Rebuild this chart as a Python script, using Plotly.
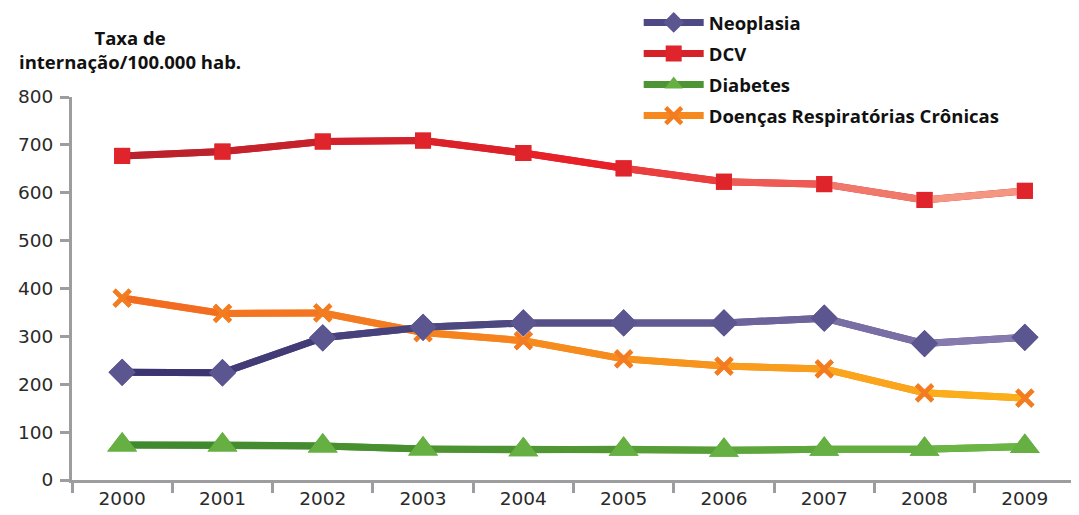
import plotly.graph_objects as go

years = ["2000", "2001", "2002", "2003", "2004", "2005", "2006", "2007", "2008", "2009"]
neoplasia = [225, 224, 297, 319, 328, 328, 328, 338, 285, 298]
dcv = [677, 686, 707, 709, 683, 651, 623, 618, 585, 604]
diabetes = [73, 73, 71, 65, 63, 64, 62, 64, 64, 70]
drc = [380, 348, 349, 308, 291, 253, 238, 232, 182, 171]

names = ["Neoplasia", "DCV", "Diabetes", "Doenças Respiratórias Crônicas"]
values = [neoplasia, dcv, diabetes, drc]
# gradient stops (start, middle, end) per series
grad = [
    [(55, 50, 110), (85, 78, 135), (140, 128, 180)],
    [(180, 35, 45), (232, 32, 40), (246, 165, 140)],
    [(62, 135, 45), (80, 150, 50), (110, 185, 70)],
    [(242, 105, 35), (246, 140, 30), (252, 178, 25)],
]
mid_col = ["#4e4884", "#d52229", "#4f9434", "#f5891f"]
marker_col = ["#5b5590", "#e0242b", "#66b043", "#f47c20"]
symbols = ["diamond", "square", "triangle-up", "x-thin"]
msize = [21, 16, 26, 16]


def lerp(a, b, t):
    return tuple(int(round(a[i] + (b[i] - a[i]) * t)) for i in range(3))


def grad_col(stops, t):
    if t <= 0.5:
        c = lerp(stops[0], stops[1], t * 2)
    else:
        c = lerp(stops[1], stops[2], (t - 0.5) * 2)
    return "rgb(%d,%d,%d)" % c


def marker_dict(k):
    if symbols[k] == "x-thin":
        return dict(symbol="x-thin", size=msize[k], color=marker_col[k],
                    line=dict(width=4.5, color=marker_col[k]))
    return dict(symbol=symbols[k], size=msize[k], color=marker_col[k],
                line=dict(width=0))


fig = go.Figure()
order = [2, 3, 0, 1]
# legend traces (draw first)
for k in range(4):
    fig.add_trace(go.Scatter(
        x=years, y=values[k], name=names[k], mode="lines+markers",
        legendgroup="g%d" % k,
        line=dict(color=mid_col[k], width=7), marker=marker_dict(k),
        legendrank=k + 1, hoverinfo="skip"))
# gradient segments
for k in order:
    v = values[k]
    n = len(v)
    for i in range(n - 1):
        fig.add_trace(go.Scatter(
            x=years[i:i + 2], y=v[i:i + 2], mode="lines",
            legendgroup="g%d" % k,
            line=dict(color=grad_col(grad[k], (i + 0.5) / (n - 1)), width=7),
            showlegend=False, hoverinfo="skip"))
# markers on top
for k in order:
    fig.add_trace(go.Scatter(
        x=years, y=values[k], mode="markers", marker=marker_dict(k),
        legendgroup="g%d" % k,
        showlegend=False, name=names[k]))

fig.update_layout(
    width=1071, height=507,
    margin=dict(l=64, r=4, t=89, b=35, autoexpand=False),
    plot_bgcolor="white", paper_bgcolor="white",
    font=dict(family="DejaVu Sans", size=18, color="#2a2a2a"),
    showlegend=True,
    legend=dict(x=0.565, y=1.243, xanchor="left", yanchor="top",
                font=dict(family="Open Sans", size=18.5, color="#111111", weight="bold"),
                itemwidth=60, traceorder="grouped", tracegroupgap=4,
                bgcolor="rgba(0,0,0,0)"),
    xaxis=dict(type="category", range=[-0.5, 9.5], tickson="boundaries",
               ticks="outside", ticklen=10, tickwidth=3, tickcolor="#9d9d9f",
               showline=True, linecolor="#9d9d9f", linewidth=3,
               showgrid=False, zeroline=False, automargin=False,
               tickfont=dict(family="DejaVu Sans", size=18.5, color="#2a2a2a")),
    yaxis=dict(range=[0, 800], dtick=100, ticks="outside", ticklen=9,
               tickwidth=3, tickcolor="#9d9d9f", showline=True,
               linecolor="#9d9d9f", linewidth=3, showgrid=False,
               zeroline=False, automargin=False,
               tickfont=dict(family="DejaVu Sans", size=18.5, color="#2a2a2a"),
               ticklabelstandoff=3),
    annotations=[dict(
        text="Taxa de<br>internação/100.000 hab.", xref="paper", yref="paper",
        x=0.058, y=1.125, xanchor="center", yanchor="middle", showarrow=False,
        font=dict(family="Open Sans", size=18.5, color="#111111", weight="bold"),
        align="center")],
)

fig.write_html("out.html")
